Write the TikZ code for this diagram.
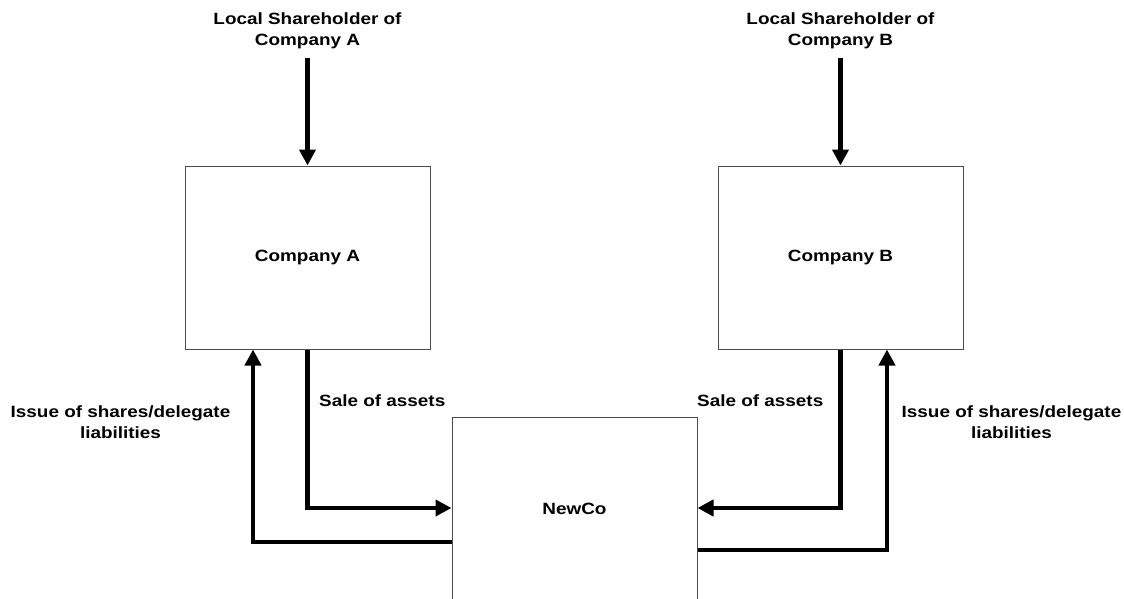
\documentclass[tikz,border=0pt]{standalone}
\usepackage{fontspec}
\setmainfont{Liberation Sans}[FakeStretch=1.16]
\usetikzlibrary{arrows.meta}
\begin{document}
\begin{tikzpicture}[x=1pt,y=-1pt,
  lbl/.style={font=\fontsize{16.3}{21}\selectfont\bfseries, align=center, inner sep=0pt, text=black},
  box/.style={draw=black!70, line width=1pt, minimum width=245pt, minimum height=183pt, lbl},
  flow/.style={line width=4.5pt, line join=miter, -{Triangle[length=16pt,width=16pt]}}
]
\useasboundingbox[fill=white] (0,0) rectangle (1124,599);
% boxes
\node[box] (ca) at (307.5,257.5) {Company A};
\node[box] (cb) at (840.5,257.5) {Company B};
\node[box] (nc) at (574.5,509) {NewCo};
% top labels
\node[lbl] (sha) at (307.5,31) {Local Shareholder of\\Company A};
\node[lbl] (shb) at (840.5,31) {Local Shareholder of\\Company B};
\draw[flow, shorten <=9pt] (sha.south) -- (ca.north);
\draw[flow, shorten <=9pt] (shb.south) -- (cb.north);
% corner coordinates
\coordinate (ya) at (0,508);
\coordinate (yia) at (0,542);
\coordinate (yib) at (0,550);
\coordinate (xia) at (253,0);
\coordinate (xib) at (887,0);
% flows
\draw[flow] (ca.south) |- (nc.west |- ya);
\draw[flow] (cb.south) |- (nc.east |- ya);
\coordinate (ia) at (nc.west |- yia);
\coordinate (ib) at (nc.east |- yib);
\draw[flow] (ia) -| (ca.south -| xia);
\draw[flow] (ib) -| (cb.south -| xib);
% labels
\node[lbl, anchor=west] (sla) at (319,401) {Sale of assets};
\node[lbl, anchor=west] (slb) at (697,401) {Sale of assets};
\node[lbl] (isa) at (120.5,422.5) {Issue of shares/delegate\\liabilities};
\node[lbl] (isb) at (1011.5,422.5) {Issue of shares/delegate\\liabilities};
\end{tikzpicture}
\end{document}
